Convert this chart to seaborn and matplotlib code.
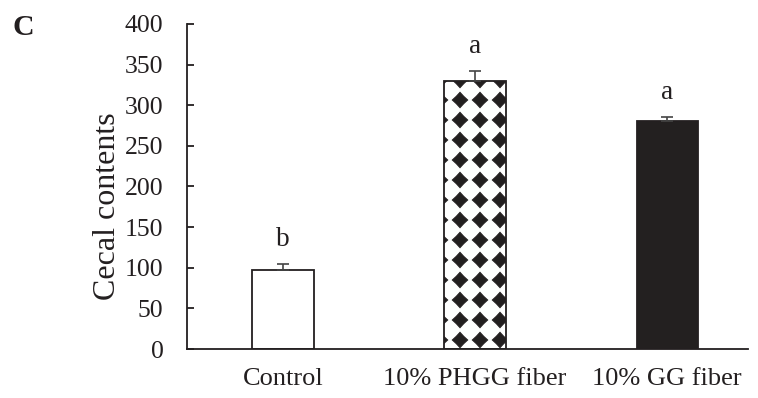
import matplotlib
matplotlib.use("Agg")
import numpy as np
import matplotlib.pyplot as plt
from matplotlib import hatch as mhatch
from matplotlib.path import Path
import seaborn as sns
import pandas as pd

groups = ["Control", "10% PHGG fiber", "10% GG fiber"]
cecal_contents = [97, 330, 281]
errors = [8, 12, 4]
letters = ["b", "a", "a"]


class DiamondGrid(mhatch.HatchPatternBase):
    """Aligned grid of filled four-point diamonds, used for the '*' hatch."""

    def __init__(self, hatch, density):
        self.n = hatch.count("*") * 5
        star = Path.unit_regular_star(4, innerCircle=0.68)
        self.shape_vertices = star.vertices
        self.shape_codes = star.codes
        self.num_vertices = (self.n + 1) ** 2 * len(self.shape_vertices)

    def set_vertices_and_codes(self, vertices, codes):
        k = len(self.shape_vertices)
        shape = self.shape_vertices * (0.38 / self.n)
        cursor = 0
        for i in range(self.n + 1):
            for j in range(self.n + 1):
                vertices[cursor:cursor + k] = shape + [i / self.n, j / self.n]
                codes[cursor:cursor + k] = self.shape_codes
                cursor += k


mhatch._hatch_types[mhatch._hatch_types.index(mhatch.Stars)] = DiamondGrid

sns.set_style("white")
plt.rcParams["font.family"] = ["Liberation Serif", "DejaVu Serif"]
plt.rcParams["hatch.linewidth"] = 0.8

df = pd.DataFrame({"group": groups, "value": cecal_contents})

fig = plt.figure(figsize=(7.58, 3.98), dpi=100)
ax = fig.add_axes([0.2467, 0.123, 0.740, 0.817])

sns.barplot(data=df, x="group", y="value", hue="group", legend=False,
            palette=["white", "white", "#231f20"], width=0.32,
            edgecolor="#231f20", linewidth=1.3, ax=ax)
ax.patches[1].set_hatch("*")

# upper error bars only
ax.errorbar(range(len(groups)), cecal_contents, yerr=[[0] * 3, errors],
            fmt="none", ecolor="#444444", elinewidth=1.2, capsize=4, capthick=1.2)

for i, (v, e, s) in enumerate(zip(cecal_contents, errors, letters)):
    ax.text(i, v + e + 30, s, ha="center", va="center", fontsize=19.5, color="#231f20")

ax.set_ylim(0, 400)
ax.set_xlim(-0.5, 2.42)
ax.set_yticks(range(0, 401, 50))
ax.tick_params(axis="y", direction="in", length=5, width=1.3, labelsize=18.5,
               left=True, pad=17, colors="#231f20")
ax.tick_params(axis="x", length=0, labelsize=19, pad=14, colors="#231f20")
ax.set_xlabel("")
ax.set_ylabel("Cecal contents", fontsize=23, color="#231f20", labelpad=8)
ax.yaxis.set_label_coords(-0.116, 0.44)

for side in ["top", "right"]:
    ax.spines[side].set_visible(False)
for side in ["left", "bottom"]:
    ax.spines[side].set_color("#231f20")
    ax.spines[side].set_linewidth(1.3)

fig.text(0.017, 0.912, "C", fontsize=21.5, fontweight="bold", va="baseline", color="#231f20")

fig.savefig("out.png", dpi=100)
